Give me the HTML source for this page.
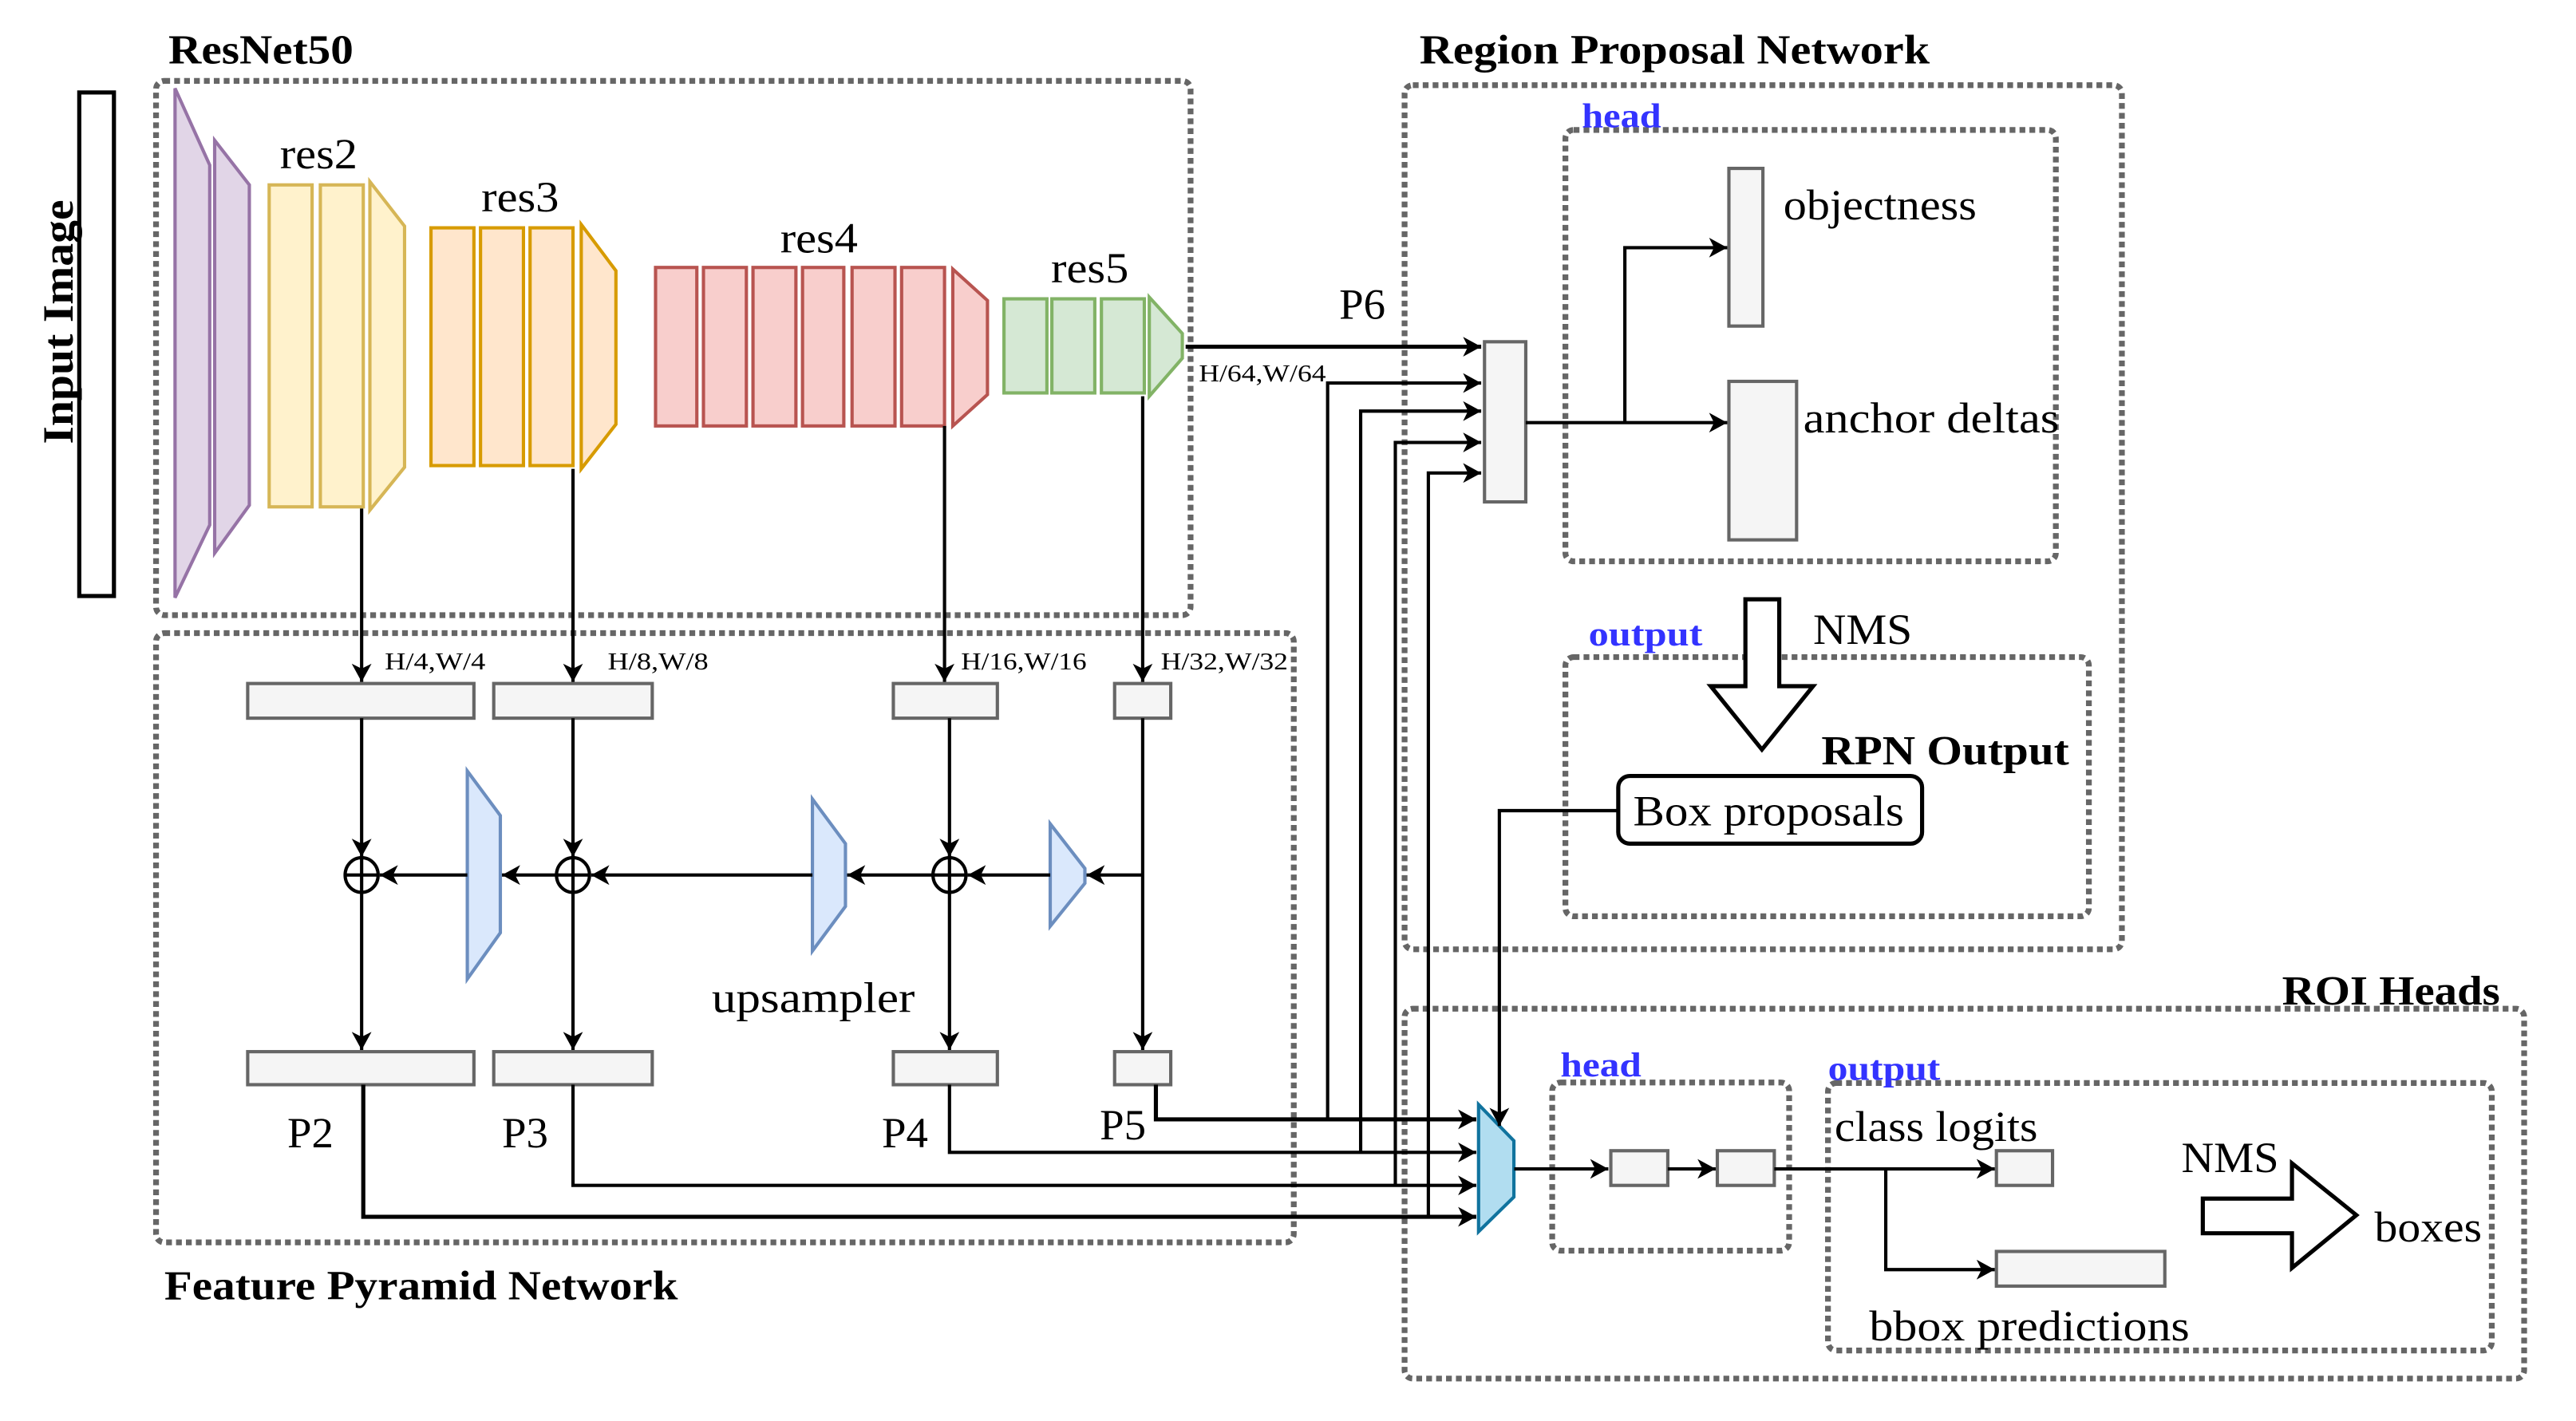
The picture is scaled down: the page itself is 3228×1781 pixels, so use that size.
<!DOCTYPE html>
<html><head><meta charset="utf-8"><style>
html,body{margin:0;padding:0;background:#fff;}
svg{display:block;}
text{font-family:"Liberation Serif",serif;}
</style></head><body>
<svg width="3228" height="1781" viewBox="0 0 1560 860.7" xmlns="http://www.w3.org/2000/svg">
<defs>
<marker id="a" markerUnits="userSpaceOnUse" markerWidth="14" markerHeight="14" refX="11" refY="6" orient="auto">
<path d="M0,0 L11,6 L0,12 L3,6 z" fill="#000"/>
</marker>
</defs>
<g fill="none" stroke="#666" stroke-width="3.5" stroke-dasharray="3.5 2.5">
<rect x="94.5" y="49" width="626.5" height="323.6" rx="5"/>
<rect x="94.5" y="383.5" width="689" height="369" rx="5"/>
<rect x="850.6" y="51.6" width="434.4" height="523.4" rx="5"/>
<rect x="948" y="78.7" width="297" height="261.3" rx="5"/>
<rect x="948" y="398" width="317" height="157" rx="5"/>
<rect x="850.6" y="611" width="678" height="224" rx="5"/>
<rect x="940" y="655.7" width="143.5" height="101.8" rx="5"/>
<rect x="1107" y="656" width="402" height="162" rx="5"/>
</g>
<g style="fill:#000">
<text x="102" y="38.4" font-size="25" font-weight="bold" textLength="112" lengthAdjust="spacingAndGlyphs">ResNet50</text>
<text x="859.6" y="38.4" font-size="25" font-weight="bold" textLength="309" lengthAdjust="spacingAndGlyphs">Region Proposal Network</text>
<text x="99.5" y="787" font-size="25" font-weight="bold" textLength="311" lengthAdjust="spacingAndGlyphs">Feature Pyramid Network</text>
<text x="1103" y="463" font-size="25" font-weight="bold" textLength="150" lengthAdjust="spacingAndGlyphs">RPN Output</text>
<text x="1382" y="608.5" font-size="25" font-weight="bold" textLength="132" lengthAdjust="spacingAndGlyphs">ROI Heads</text>
</g>
<rect x="48" y="56" width="21" height="305" fill="#fff" stroke="#000" stroke-width="2.5"/>
<text transform="translate(44,269) rotate(-90)" font-size="26" font-weight="bold" textLength="148" lengthAdjust="spacingAndGlyphs" style="fill:#000">Input Image</text>
<g stroke-width="2">
<polygon points="106,53.5 127,100 127,318 106,362" fill="#e1d5e7" stroke="#9673a6"/>
<polygon points="130,85 151,112 151,306 130,335" fill="#e1d5e7" stroke="#9673a6"/>
<g fill="#fff2cc" stroke="#d6b656">
<rect x="163" y="112" width="26" height="195"/><rect x="194" y="112" width="26" height="195"/>
<polygon points="224,110 245,137 245,283 224,309"/></g>
<g fill="#ffe6cc" stroke="#d79b00">
<rect x="261" y="138" width="26" height="144"/><rect x="291" y="138" width="26" height="144"/><rect x="321" y="138" width="26" height="144"/>
<polygon points="352,136 373,164 373,257 352,284"/></g>
<g fill="#f8cecc" stroke="#b85450">
<rect x="397" y="162" width="25" height="96"/><rect x="426" y="162" width="26" height="96"/><rect x="456" y="162" width="26" height="96"/><rect x="486" y="162" width="25" height="96"/><rect x="516" y="162" width="26" height="96"/><rect x="546" y="162" width="26" height="96"/>
<polygon points="577,163 598,182 598,239 577,258"/></g>
<g fill="#d5e8d4" stroke="#82b366">
<rect x="608" y="181" width="26" height="57"/><rect x="637" y="181" width="26" height="57"/><rect x="667" y="181" width="26" height="57"/>
<polygon points="696,180 716,202 716,217 696,240"/></g>
</g>
<g fill="#f5f5f5" stroke="#666" stroke-width="2">
<rect x="150" y="414" width="137" height="21"/><rect x="299" y="414" width="96" height="21"/><rect x="541" y="414" width="63" height="21"/><rect x="675" y="414" width="34" height="21"/>
<rect x="150" y="637" width="137" height="20"/><rect x="299" y="637" width="96" height="20"/><rect x="541" y="637" width="63" height="20"/><rect x="675" y="637" width="34" height="20"/>
<rect x="899" y="207" width="25" height="97"/>
<rect x="1047" y="102" width="20.6" height="95.5"/>
<rect x="1047" y="231" width="41" height="96"/>
<rect x="975.5" y="697" width="34.5" height="21"/><rect x="1040" y="697" width="34.5" height="21"/>
<rect x="1209" y="697" width="34" height="21"/><rect x="1209" y="758" width="102" height="21"/>
</g>
<g fill="#dae8fc" stroke="#6c8ebf" stroke-width="2">
<polygon points="283,467 303,494 303,565 283,593"/>
<polygon points="492,484 512,511 512,549 492,576"/>
<polygon points="636,499 657,526 657,535 636,561"/>
</g>
<polygon points="895.4,669 916.8,691 916.8,725 895.4,746" fill="#b1ddf0" stroke="#10739e" stroke-width="2"/>
<rect x="980" y="470" width="184" height="41" rx="7" fill="#fff" stroke="#000" stroke-width="2.5"/>
<polygon points="1057,363 1077.5,363 1077.5,415.6 1098,415.6 1067,454 1036,415.6 1057,415.6" fill="#fff" stroke="#000" stroke-width="2.5"/>
<polygon points="1334,726 1388,726 1388,704.6 1427,736 1388,768 1388,747 1334,747" fill="#fff" stroke="#000" stroke-width="2.5"/>
<g font-size="26" style="fill:#000">
<text x="193" y="102" text-anchor="middle" textLength="47" lengthAdjust="spacingAndGlyphs">res2</text>
<text x="315" y="128" text-anchor="middle" textLength="47" lengthAdjust="spacingAndGlyphs">res3</text>
<text x="496" y="153" text-anchor="middle" textLength="47" lengthAdjust="spacingAndGlyphs">res4</text>
<text x="660" y="171" text-anchor="middle" textLength="47" lengthAdjust="spacingAndGlyphs">res5</text>
<text x="811" y="193" textLength="28" lengthAdjust="spacingAndGlyphs">P6</text>
<text x="174" y="695" textLength="28" lengthAdjust="spacingAndGlyphs">P2</text>
<text x="304" y="695" textLength="28" lengthAdjust="spacingAndGlyphs">P3</text>
<text x="534" y="695" textLength="28" lengthAdjust="spacingAndGlyphs">P4</text>
<text x="666" y="690" textLength="28" lengthAdjust="spacingAndGlyphs">P5</text>
<text x="431" y="613" textLength="123" lengthAdjust="spacingAndGlyphs">upsampler</text>
<text x="1080" y="133" textLength="117" lengthAdjust="spacingAndGlyphs">objectness</text>
<text x="1092" y="262" textLength="155" lengthAdjust="spacingAndGlyphs">anchor deltas</text>
<text x="1098" y="390" textLength="60" lengthAdjust="spacingAndGlyphs">NMS</text>
<text x="989" y="500" textLength="164" lengthAdjust="spacingAndGlyphs">Box proposals</text>
<text x="1111" y="691" textLength="123" lengthAdjust="spacingAndGlyphs">class logits</text>
<text x="1132" y="812" textLength="194" lengthAdjust="spacingAndGlyphs">bbox predictions</text>
<text x="1321" y="710" textLength="59" lengthAdjust="spacingAndGlyphs">NMS</text>
<text x="1438" y="752" textLength="65" lengthAdjust="spacingAndGlyphs">boxes</text>
</g>
<g font-size="15" style="fill:#000">
<text x="233" y="405.5" textLength="61" lengthAdjust="spacingAndGlyphs">H/4,W/4</text>
<text x="368" y="405.5" textLength="61" lengthAdjust="spacingAndGlyphs">H/8,W/8</text>
<text x="582" y="405.5" textLength="76" lengthAdjust="spacingAndGlyphs">H/16,W/16</text>
<text x="703" y="405.5" textLength="77" lengthAdjust="spacingAndGlyphs">H/32,W/32</text>
<text x="726" y="231" textLength="77" lengthAdjust="spacingAndGlyphs">H/64,W/64</text>
</g>
<g font-size="21" font-weight="bold" style="fill:#3333ff">
<text x="958" y="77" textLength="48" lengthAdjust="spacingAndGlyphs">head</text>
<text x="962" y="391" textLength="69" lengthAdjust="spacingAndGlyphs">output</text>
<text x="945" y="652" textLength="49" lengthAdjust="spacingAndGlyphs">head</text>
<text x="1107" y="654" textLength="68" lengthAdjust="spacingAndGlyphs">output</text>
</g>
<g fill="#fff" stroke="#000" stroke-width="2">
<ellipse cx="219" cy="530" rx="10" ry="10.5"/><ellipse cx="347" cy="530" rx="10" ry="10.5"/><ellipse cx="575" cy="530" rx="10" ry="10.5"/>
<path d="M209,530 H229 M219,519.5 V540.5 M337,530 H357 M347,519.5 V540.5 M565,530 H585 M575,519.5 V540.5" fill="none"/>
</g>
<g fill="none" stroke="#000" stroke-width="2" marker-end="url(#a)">
<path d="M718,210 H897" stroke-width="2.5"/>
<path d="M804,678 V232 H897"/>
<path d="M824,698 V249 H897"/>
<path d="M845,718 V268 H897"/>
<path d="M865,737 V286.5 H897"/>
<path d="M700,657 V678 H894" stroke-width="2.5"/>
<path d="M575,657 V698 H894"/>
<path d="M347,657 V718 H894"/>
<path d="M220,657 V737 H894" stroke-width="2.5"/>
<path d="M219,308 V413"/>
<path d="M347,284 V413"/>
<path d="M572,258 V413"/>
<path d="M692,240 V413"/>
<path d="M219,435 V519"/>
<path d="M219,541 V636"/>
<path d="M347,435 V519"/>
<path d="M347,541 V636"/>
<path d="M575,435 V519"/>
<path d="M575,541 V636"/>
<path d="M692,435 V636"/>
<path d="M692,530 H658"/>
<path d="M636,530 H586"/>
<path d="M565,530 H513"/>
<path d="M492,530 H358"/>
<path d="M337,530 H304"/>
<path d="M283,530 H230"/>
<path d="M924,256 H1046"/>
<path d="M984,256 V150 H1046"/>
<path d="M980,491 H908 V682"/>
<path d="M917,708 H974"/>
<path d="M1010,708 H1039"/>
<path d="M1074.5,708 H1208"/>
<path d="M1142,708 V769 H1208"/>
</g>
</svg>
</body></html>
